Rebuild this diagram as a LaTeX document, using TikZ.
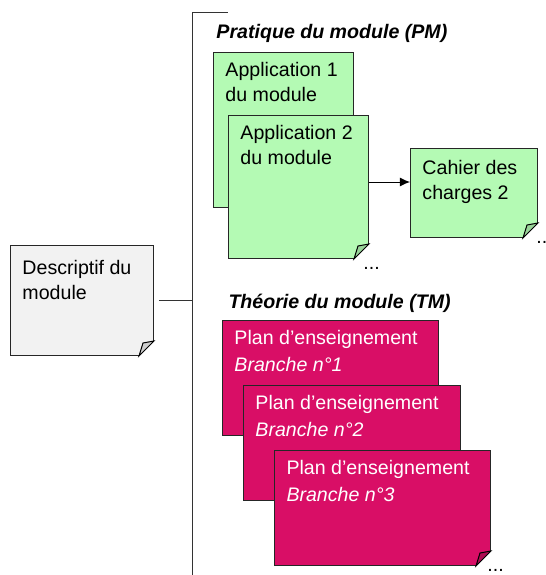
\documentclass[tikz,border=0pt]{standalone}
\usepackage{fontspec}
\setmainfont{Liberation Sans}
\usepackage{tikz}
\usetikzlibrary{calc,positioning,arrows.meta}

\definecolor{notegreen}{RGB}{180,250,180}
\definecolor{notepink}{RGB}{217,14,102}
\definecolor{notegray}{RGB}{242,242,242}

% folded corner, drawn right after its note
\newcommand{\dogear}[2]{%
\fill[white] ($(#1.south east)+(-16,1)$) -- ($(#1.south east)+(1,1)$) -- ($(#1.south east)+(1,-16)$) -- cycle;
\draw[fill=#2] ($(#1.south east)+(-15,0)$) -- ($(#1.south east)+(0,-15)$) -- ($(#1.south east)+(-11,-13)$) -- cycle;
}

\begin{document}
\begin{tikzpicture}[x=0.5pt,y=-0.5pt,line width=0.5pt]
\tikzstyle{note}=[rectangle, draw=black!85, fill=#1, anchor=north west, inner sep=0pt]
\tikzstyle{txt}=[anchor=north west, align=left, inner xsep=6pt, inner ysep=5pt, font=\fontsize{9.8}{12.5}\selectfont]
\tikzstyle{title}=[anchor=base west, inner sep=0pt, font=\bfseries\itshape\fontsize{9.8}{12}\selectfont]
\tikzstyle{more}=[anchor=base west, inner sep=0pt, font=\fontsize{9.8}{12}\selectfont]
\tikzstyle{appbox}=[note=notegreen, minimum width=70pt]
\tikzstyle{planbox}=[note=notepink, minimum width=108pt, minimum height=57.5pt]
\tikzstyle{plantxt}=[txt, text=white, font=\fontsize{9.8}{13.5}\selectfont]

\useasboundingbox (0,0) rectangle (546,575);

% left note and bus
\node[note=notegray, minimum width=71.5pt, minimum height=55pt,
  label={[txt, inner ysep=7.5pt]north west:Descriptif du\\module}] (desc) at (10,245) {};
\dogear{desc}{notegray!85!black}
\coordinate (bustop) at (193,12);
\coordinate (busend) at (193,575);
\coordinate (tick) at (228,12);
\draw[black!80] (tick) -- (bustop) -- (busend);
\draw[black!80] ([xshift=2.5pt]desc.east) -- (desc.east -| bustop);

% pratique
\node[title] (pm) at (216,38) {Pratique du module (PM)};
\node[appbox, minimum height=77.5pt,
  label={[txt]north west:Application 1\\du module}] (app1) at (213,52) {};
\dogear{app1}{notegreen!85!black}
\node[appbox, minimum height=71.5pt,
  label={[txt]north west:Application 2\\du module}] (app2) at (228,115) {};
\dogear{app2}{notegreen!85!black}
\node[more] (app2more) at (363,269) {...};
\node[note=notegreen, minimum width=63.5pt, minimum height=44.5pt,
  label={[txt, inner ysep=6pt]north west:Cahier des\\charges 2}] (cdc) at (410,148) {};
\dogear{cdc}{notegreen!85!black}
\node[more] (cdcmore) at (536,243) {..};
\draw[-{Latex[length=5pt,width=4.5pt]}, black] ([yshift=2.5pt]app2.east) -- ([yshift=2.5pt]app2.east -| cdc.west);

% theorie
\node[title] (tm) at (228,308) {Théorie du module (TM)};
\node[planbox, label={[plantxt]north west:{Plan d’enseignement\\\textit{Branche n°1}}}] (plan1) at (222,320) {};
\dogear{plan1}{notepink!80!black}
\node[planbox, minimum width=108.5pt, label={[plantxt]north west:{Plan d’enseignement\\\textit{Branche n°2}}}] (plan2) at (243,385) {};
\dogear{plan2}{notepink!80!black}
\node[planbox, label={[plantxt]north west:{Plan d’enseignement\\\textit{Branche n°3}}}] (plan3) at (274,450) {};
\dogear{plan3}{notepink!80!black}
\node[more] (planmore) at (487,571) {...};
\end{tikzpicture}
\end{document}
